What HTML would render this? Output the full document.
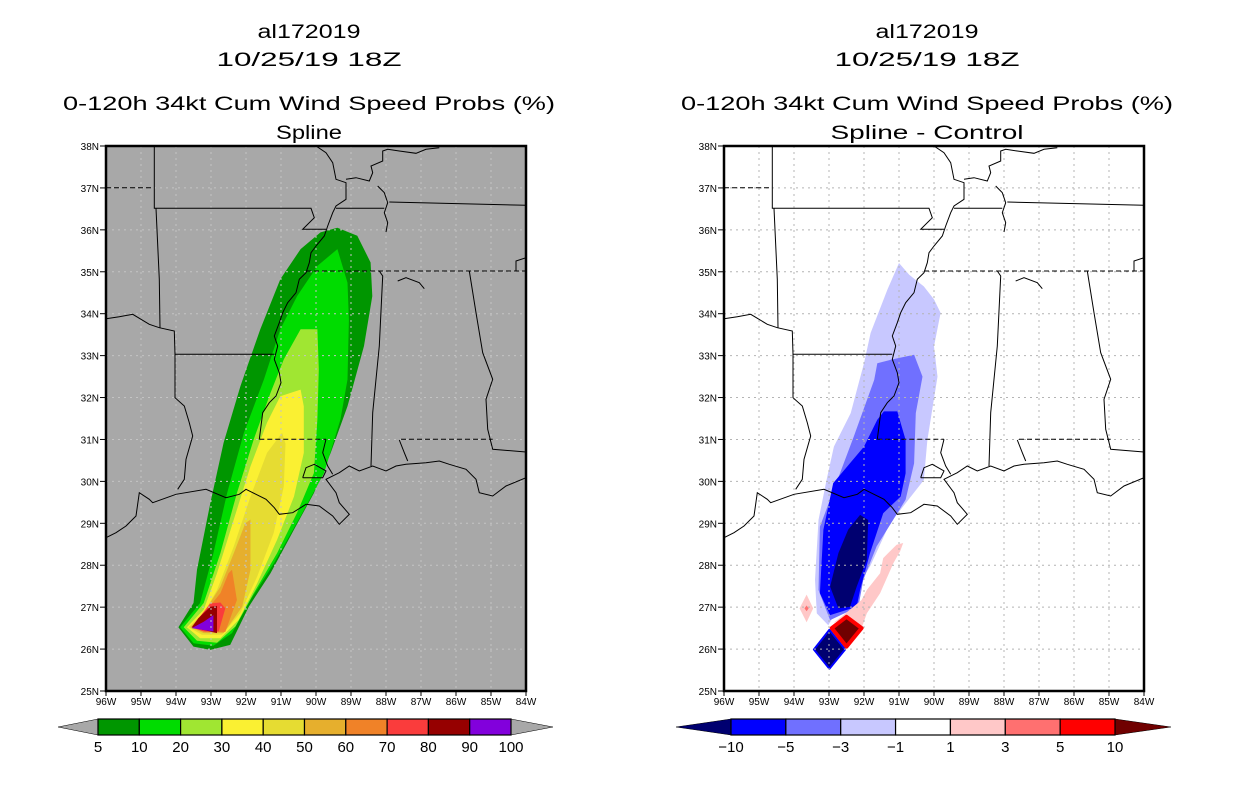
<!DOCTYPE html>
<html><head><meta charset="utf-8"><style>
html,body{margin:0;padding:0;background:#fff;}
svg{display:block;font-family:"Liberation Sans",sans-serif;}
</style></head><body>
<svg id="root" width="1236" height="800" viewBox="0 0 1236 800" xmlns="http://www.w3.org/2000/svg"></svg>
<script>
// ---- data ----
const latTicks = [25,26,27,28,29,30,31,32,33,34,35,36,37,38];
const lonTicks = [-96,-95,-94,-93,-92,-91,-90,-89,-88,-87,-86,-85,-84];
const probLevels = ["5","10","20","30","40","50","60","70","80","90","100"];
const probColors = ["#009600","#00dc00","#a0e632","#faf032","#e6dc32","#e6af2d","#f08228","#fa3c3c","#960000","#8200dc"];
const diffLevels = ["-10","-5","-3","-1","1","3","5","10"];
const diffColors = ["#0000ff","#7070ff","#c8c8ff","#ffffff","#ffc8c8","#ff7070","#ff0000"];
// probability contours [lon,lat]
const prob5 = [[-93.93,26.52],[-93.5,26.06],[-93.02,25.98],[-92.45,26.1],[-91.92,27.01],[-91.3,27.81],[-90.63,28.85],[-90.06,29.72],[-89.58,30.68],[-89.1,31.79],[-88.63,33.23],[-88.39,34.42],[-88.44,35.22],[-88.82,35.86],[-89.39,36.05],[-89.87,35.94],[-90.44,35.54],[-91.02,34.82],[-91.59,33.63],[-92.16,32.27],[-92.64,30.92],[-93.02,29.48],[-93.4,27.89],[-93.5,27.1]];
const prob10 = [[-93.88,26.52],[-93.5,26.14],[-92.93,26.08],[-92.4,26.38],[-91.87,27.17],[-91.2,28.05],[-90.44,29.17],[-89.77,30.2],[-89.3,31.48],[-89.1,32.43],[-89.06,33.86],[-89.1,34.74],[-89.39,35.54],[-89.96,35.14],[-90.54,34.42],[-91.02,33.63],[-91.49,32.43],[-92.06,31.16],[-92.54,29.72],[-92.93,28.29],[-93.31,27.1]];
const prob20 = [[-93.78,26.52],[-93.4,26.2],[-92.83,26.15],[-92.3,26.54],[-91.78,27.33],[-91.11,28.29],[-90.54,29.25],[-90.06,30.2],[-89.96,31.48],[-89.92,32.67],[-89.96,33.63],[-90.44,33.63],[-90.92,32.91],[-91.3,32.11],[-91.78,31.0],[-92.26,29.72],[-92.73,28.29],[-93.21,27.1]];
const prob30 = [[-93.69,26.52],[-93.31,26.26],[-92.73,26.26],[-92.21,26.7],[-91.68,27.57],[-91.11,28.61],[-90.63,29.64],[-90.35,30.68],[-90.35,31.79],[-90.44,32.19],[-91.02,32.03],[-91.4,31.4],[-91.87,30.36],[-92.35,29.09],[-92.83,27.81],[-93.21,26.94]];
const prob40 = [[-93.64,26.52],[-93.26,26.34],[-92.69,26.34],[-92.16,26.86],[-91.68,27.73],[-91.21,28.77],[-90.92,29.88],[-90.87,30.9],[-90.97,31.16],[-91.4,30.68],[-91.87,29.64],[-92.35,28.45],[-92.83,27.41],[-93.21,26.86]];
const prob50 = [[-93.59,26.52],[-93.21,26.38],[-92.64,26.38],[-92.11,27.01],[-91.87,27.89],[-91.87,29.09],[-92.02,29.0],[-92.35,28.29],[-92.73,27.49],[-93.21,26.86]];
const prob60 = [[-93.55,26.52],[-93.16,26.41],[-92.59,26.41],[-92.26,27.17],[-92.4,27.89],[-92.5,27.81],[-92.73,27.33],[-93.12,26.94]];
const prob70 = [[-93.55,26.52],[-93.21,26.42],[-92.78,26.42],[-92.59,26.97],[-92.73,27.11],[-93.02,27.09],[-93.31,26.78]];
const prob80 = [[-93.55,26.52],[-92.83,26.38],[-92.83,27.03],[-93.02,27.01],[-93.36,26.74]];
const prob90 = [[-93.55,26.5],[-92.93,26.42],[-92.93,26.81],[-93.21,26.65]];
// difference contours [lon,lat]
const diffM1 = [[-91.0,35.21],[-90.71,34.93],[-90.29,34.65],[-90.0,34.34],[-89.81,34.02],[-90.0,33.22],[-89.9,32.5],[-90.19,30.99],[-90.29,30.03],[-91.26,29.0],[-91.83,27.97],[-92.3,27.33],[-92.88,26.77],[-93.02,26.57],[-93.35,26.85],[-93.4,27.65],[-93.3,29.08],[-93.07,30.04],[-92.86,30.83],[-92.38,31.63],[-92.0,32.82],[-91.81,33.54],[-91.33,34.58]];
const diffM3 = [[-91.24,32.9],[-90.57,33.02],[-90.33,32.5],[-90.52,31.63],[-90.57,30.43],[-90.81,29.56],[-91.64,28.45],[-92.02,27.65],[-92.16,27.01],[-92.97,26.69],[-93.3,27.41],[-93.26,28.92],[-92.29,31.07],[-91.71,32.42],[-91.62,32.82]];
const diffM5 = [[-91.43,31.67],[-91.05,31.67],[-90.81,30.99],[-90.81,30.19],[-90.95,29.64],[-91.45,29.24],[-91.83,28.29],[-92.11,27.41],[-92.21,27.01],[-92.97,26.81],[-93.26,27.33],[-93.16,28.85],[-92.88,29.96],[-92.0,30.83],[-91.62,31.47]];
const diffM10 = [[-92.11,29.2],[-91.88,29.08],[-91.92,28.13],[-92.21,27.49],[-92.4,27.01],[-92.73,26.97],[-92.97,27.49],[-92.73,28.29],[-92.45,28.85]];
const diffNavyDiamond = [[-92.99,26.46],[-92.54,25.99],[-92.99,25.53],[-93.43,25.99]];
const diffRedDiamond = [[-92.5,26.77],[-92.07,26.5],[-92.5,26.06],[-92.92,26.5]];
const diffP1Band = [[-90.88,28.53],[-90.97,28.33],[-91.16,28.05],[-91.54,27.33],[-91.92,26.85],[-92.07,26.5],[-92.5,26.77],[-92.88,26.62],[-92.59,26.81],[-92.07,27.17],[-91.92,27.41],[-91.54,27.81],[-91.45,28.17],[-91.07,28.49]];
const diffP1Small = [[-93.84,26.97],[-93.64,27.3],[-93.45,26.97],[-93.64,26.64]];
const diffP3Dot = [[-93.7,26.97],[-93.64,27.04],[-93.58,26.97],[-93.64,26.9]];

// ---- map geometry (outline traces, in local reference units) ----
const borders = [
 {d:1,p:[[0,125],[145,125]]},
 {p:[[145,0],[145,187],[615,187],[625,215],[590,250],[660,250]]},
 {p:[[150,187],[160,400],[162,545]]},
 {p:[[0,518],[40,512],[80,505],[130,535],[160,545],[205,555],[207,625],[505,625]]},
 {p:[[207,625],[207,755],[235,780],[250,830],[260,870],[240,940],[235,1000],[215,1030]]},
 {p:[[630,0],[660,20],[680,50],[690,100],[720,110],[720,160],[690,180],[680,200],[665,240],[655,270],[630,300],[615,320],[610,350],[600,380],[580,400],[570,440],[545,470],[530,500],[520,530],[505,570],[515,600],[505,640],[520,680],[525,710],[510,750],[490,770],[470,800],[465,840],[460,880]]},
 {d:1,p:[[460,880],[660,880]]},
 {p:[[660,880],[650,920],[665,960],[680,985]]},
 {p:[[720,100],[750,95],[790,105],[800,80],[795,60],[830,45],[830,15],[845,10],[880,15],[930,22],[960,10],[1000,5]]},
 {p:[[690,187],[835,187]]},
 {p:[[850,168],[1260,178]]},
 {p:[[815,120],[835,140],[845,170],[835,200],[845,230],[840,258]]},
 {d:1,p:[[600,375],[1260,375]]},
 {p:[[820,375],[830,390],[820,600],[800,800],[795,960]]},
 {p:[[1090,375],[1110,500],[1130,620],[1160,700],[1140,760],[1145,850],[1160,910],[1260,918]]},
 {d:1,p:[[885,880],[1160,880]]},
 {p:[[880,882],[895,920],[905,945]]},
 {p:[[0,1175],[30,1160],[60,1140],[90,1110],[100,1040],[130,1060],[140,1070],[210,1045],[300,1030],[360,1055],[400,1045],[420,1030],[450,1045],[480,1060],[505,1085],[520,1105],[560,1100],[600,1075],[640,1080],[680,1110],[700,1135],[730,1105],[700,1070],[690,1040],[660,1000],[700,980],[730,960],[760,975],[800,960],[840,975],[870,960],[900,955],[960,950],[1000,945],[1030,955],[1080,970],[1110,1000],[1120,1040],[1160,1050],[1200,1020],[1260,995]]},
 {p:[[590,995],[600,965],[625,955],[660,975],[650,995],[590,995]]},
 {p:[[1230,375],[1230,345],[1260,335]]},
 {p:[[875,405],[900,395],[940,410],[955,428]]}
];

const NS="http://www.w3.org/2000/svg";
const root=document.getElementById('root');
function mk(tag,attrs,parent){const e=document.createElementNS(NS,tag);for(const k in attrs)e.setAttribute(k,attrs[k]);(parent||root).appendChild(e);return e;}
const MW=420, MH=545, MT=146;
function panel(ox, bg, gridColor, contours, cbar, titles, pname){
  const g=mk('g',{});
  
  
  const xS=lon=>ox+(lon+96)*MW/12;
  const yS=lat=>MT+(38-lat)*MH/13;
  const cx=ox+203;
  titles.forEach((t,i)=>{
    const el=mk('text',{x:cx,y:t.y,'text-anchor':'middle','font-size':t.fs,textLength:t.w,lengthAdjust:'spacingAndGlyphs',fill:'#000'},g);
    el.textContent=t.s;
    
    
  });
  const cid='clip'+ox;
  const cp=mk('clipPath',{id:cid},g);mk('rect',{x:ox,y:MT,width:MW,height:MH},cp);
  const bgr=mk('rect',{x:ox,y:MT,width:MW,height:MH,fill:bg},g);
  
  
  const cg=mk('g',{'clip-path':'url(#'+cid+')'},g);
  contours.forEach(c=>{
    const pts=c.pts.map(p=>xS(p[0]).toFixed(1)+','+yS(p[1]).toFixed(1)).join(' ');
    const el=mk('polygon',{points:pts,fill:c.fill,stroke:c.stroke||'none','stroke-width':c.sw||0,'stroke-linejoin':'round'},cg);
    
    
  });
  latTicks.forEach(l=>{ if(l>25&&l<38){const ln=mk('line',{x1:ox,x2:ox+MW,y1:yS(l),y2:yS(l),stroke:gridColor,'stroke-dasharray':'2,4'},cg);}});
  lonTicks.forEach(l=>{ if(l>-96&&l<-84){const ln=mk('line',{y1:MT,y2:MT+MH,x1:xS(l),x2:xS(l),stroke:gridColor,'stroke-dasharray':'2,4'},cg);}});
  borders.forEach(b=>{
    const pts=b.p.map(p=>(ox+p[0]/3).toFixed(1)+','+(MT+p[1]/3).toFixed(1)).join(' ');
    const el=mk('polyline',{points:pts,fill:'none',stroke:'#000','stroke-width':1,'stroke-dasharray':b.d?'5,3':'none'},cg);
    
    
  });
  const fr=mk('rect',{x:ox,y:MT,width:MW,height:MH,fill:'none',stroke:'#000','stroke-width':2.5},g);
  
  
  latTicks.forEach(l=>{
    mk('line',{x1:ox-6,x2:ox,y1:yS(l),y2:yS(l),stroke:'#000','stroke-width':1},g);
    const t=mk('text',{x:ox-7,y:yS(l)+4,'text-anchor':'end','font-size':10,fill:'#000'},g);
    t.textContent=l+'N';
    
    
  });
  lonTicks.forEach(l=>{
    mk('line',{y1:MT+MH,y2:MT+MH+5,x1:xS(l),x2:xS(l),stroke:'#000','stroke-width':1},g);
    const t=mk('text',{x:xS(l),y:MT+MH+14,'text-anchor':'middle','font-size':10,fill:'#000'},g);
    t.textContent=(-l)+'W';
    
    
  });
  const cb=mk('g',{},g);
  
  
  const y0=719,y1=735,ym=727;
  const n=cbar.colors.length, bw=(cbar.x1-cbar.x0)/n;
  const tl=mk('polygon',{points:`${cbar.x0},${y0} ${cbar.x0},${y1} ${cbar.t0},${ym}`,fill:cbar.lo,stroke:'#000','stroke-width':0.5},cb);
  
  
  const tr=mk('polygon',{points:`${cbar.x1},${y0} ${cbar.x1},${y1} ${cbar.t1},${ym}`,fill:cbar.hi,stroke:'#000','stroke-width':0.5},cb);
  
  
  cbar.colors.forEach((c,i)=>{
    const r=mk('rect',{x:cbar.x0+i*bw,y:y0,width:bw,height:y1-y0,fill:c,stroke:'#000','stroke-width':1.2},cb);
    
    
  });
  cbar.labels.forEach((s,i)=>{
    const t=mk('text',{x:cbar.x0+i*bw,y:752,'text-anchor':'middle','font-size':15,fill:'#000'},cb);
    t.textContent=s.replace('-','\u2212');
    
    
  });
}
const probNames=['prob-5','prob-10','prob-20','prob-30','prob-40','prob-50','prob-60','prob-70','prob-80','prob-90'];
const probPolys=[prob5,prob10,prob20,prob30,prob40,prob50,prob60,prob70,prob80,prob90];
panel(106,'#a8a8a8','#c4c4c4',
  probPolys.map((p,i)=>({pts:p,fill:probColors[i],name:probNames[i]+'-contour'})),
  {x0:98,x1:511,t0:58,t1:553,lo:'#a8a8a8',hi:'#a8a8a8',colors:probColors,labels:probLevels},
  [{s:'al172019',y:38,fs:19,w:103},{s:'10/25/19 18Z',y:66,fs:19,w:185},{s:'0-120h 34kt Cum Wind Speed Probs (%)',y:110,fs:19,w:492},{s:'Spline',y:139,fs:19,w:66}],
  'left-panel-spline');
panel(724,'#ffffff','#b4b4b4',
  [{pts:diffM1,fill:diffColors[2],name:'diff-minus1-contour'},
   {pts:diffM3,fill:diffColors[1],name:'diff-minus3-contour'},
   {pts:diffM5,fill:diffColors[0],name:'diff-minus5-contour'},
   {pts:diffM10,fill:'#000070',name:'diff-minus10-contour'},
   {pts:diffP1Band,fill:diffColors[4],name:'diff-plus1-band'},
   {pts:diffP1Small,fill:diffColors[4],name:'diff-plus1-small'},
   {pts:diffP3Dot,fill:diffColors[5],name:'diff-plus3-dot'},
   {pts:diffNavyDiamond,fill:'#000070',stroke:'#0000ff',sw:2,name:'diff-minus10-diamond'},
   {pts:diffRedDiamond,fill:'#700000',stroke:'#ff0000',sw:4,name:'diff-plus10-diamond'}],
  {x0:731,x1:1115,t0:676,t1:1171,lo:'#000070',hi:'#700000',colors:diffColors,labels:diffLevels},
  [{s:'al172019',y:38,fs:19,w:103},{s:'10/25/19 18Z',y:66,fs:19,w:185},{s:'0-120h 34kt Cum Wind Speed Probs (%)',y:110,fs:19,w:492},{s:'Spline - Control',y:139,fs:19,w:193}],
  'right-panel-difference');
</script>
</body></html>
